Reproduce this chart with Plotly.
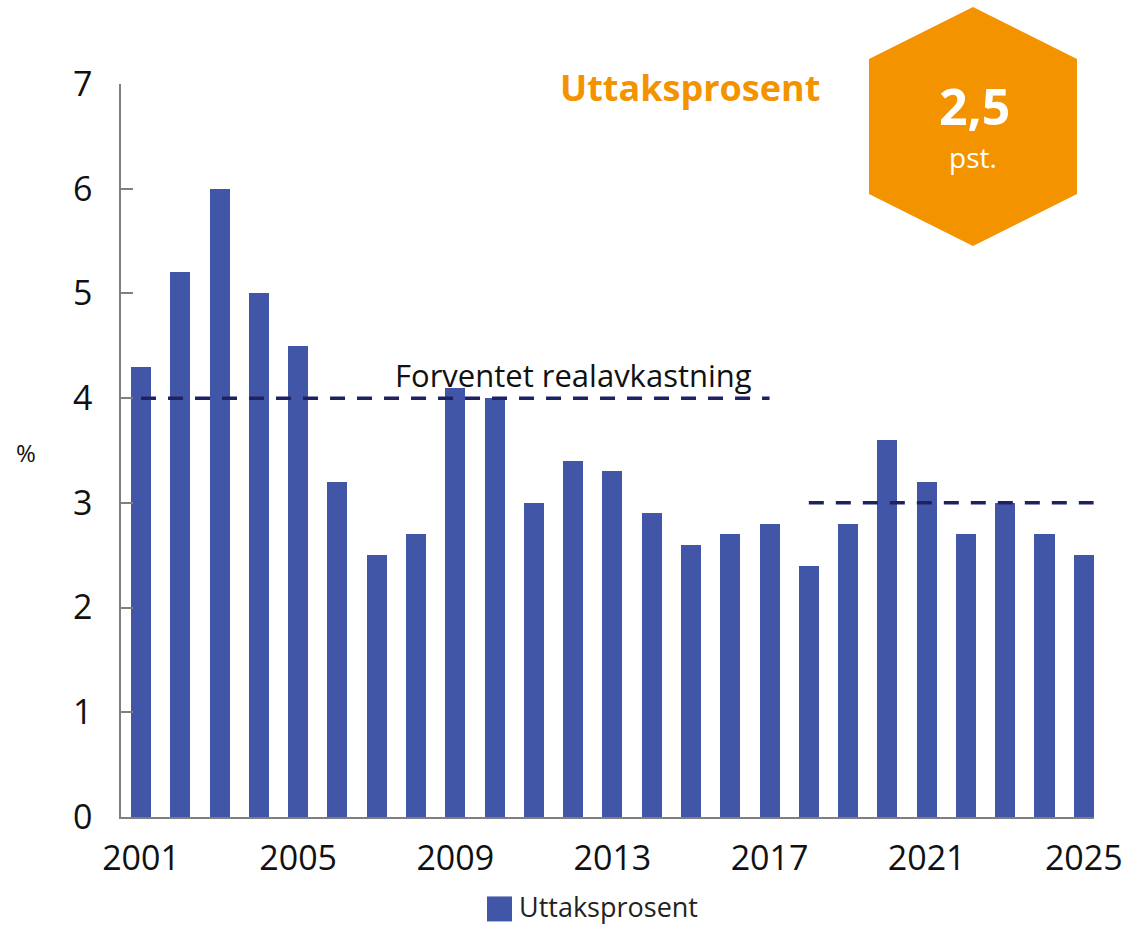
import plotly.graph_objects as go

years = list(range(2001, 2026))
uttak = [4.3, 5.2, 6.0, 5.0, 4.5, 3.2, 2.5, 2.7, 4.1, 4.0, 3.0, 3.4, 3.3, 2.9,
         2.6, 2.7, 2.8, 2.4, 2.8, 3.6, 3.2, 2.7, 3.0, 2.7, 2.5]
forv1_x = [2001, 2017]
forv1_y = [4, 4]
forv2_x = [2018, 2025.25]
forv2_y = [3, 3]
xticks = [2001, 2005, 2009, 2013, 2017, 2021, 2025]
yticks = [0, 1, 2, 3, 4, 5, 6, 7]

BAR = "#4256A7"
NAVY = "#1E2262"
ORANGE = "#F49300"
FONT = "Open Sans"

W, H = 1127, 926
L, R_px, T, B_px = 121, 1094, 84, 817.5
pw, ph = R_px - L, B_px - T


def px(x):
    return (x - L) / pw


def py(y):
    return (B_px - y) / ph


fig = go.Figure()
fig.add_trace(go.Bar(x=years, y=uttak, width=0.51, marker=dict(color=BAR, line_width=0),
                     name="Uttaksprosent", showlegend=False))
for xs, ys in [(forv1_x, forv1_y), (forv2_x, forv2_y)]:
    fig.add_trace(go.Scatter(x=xs, y=ys, mode="lines", showlegend=False,
                             line=dict(color=NAVY, width=3.5, dash="15px,12px")))

hexpts = [(973, 7), (1077, 59), (1077, 194), (973, 246), (869, 194), (869, 59)]
path = "M " + " L ".join(f"{px(a):.5f},{py(b):.5f}" for a, b in hexpts) + " Z"

shapes = [
    dict(type="path", xref="paper", yref="paper", path=path,
         fillcolor=ORANGE, line=dict(width=0), layer="above"),
    dict(type="rect", xref="paper", yref="paper",
         x0=px(487), x1=px(512), y0=py(922), y1=py(897),
         fillcolor=BAR, line=dict(width=0)),
]


def ann(text, x, y, size, color, xanchor="center", xref="paper", yref="paper"):
    return dict(text=text, x=x, y=y, xref=xref, yref=yref, xanchor=xanchor, yanchor="middle",
                showarrow=False, font=dict(family=FONT, size=size, color=color))


annotations = [
    ann("Forventet realavkastning", 2012, 4.22, 31, "#111111", xref="x", yref="y"),
    ann("<b>Uttaksprosent</b>", px(690), py(88), 36, ORANGE),
    ann("<b>2,5</b>", px(974), py(106), 50, "white"),
    ann("pst.", px(973), py(157), 28, "white"),
    ann("%", px(26), py(453), 24, "#111111"),
    ann("Uttaksprosent", px(517), py(907), 27, "#222222", xanchor="left"),
]

fig.update_layout(
    width=W, height=H,
    margin=dict(l=L, r=W - R_px, t=T, b=H - B_px, pad=0),
    paper_bgcolor="white", plot_bgcolor="white",
    font=dict(family=FONT, color="#111111"),
    shapes=shapes, annotations=annotations,
    bargap=0,
    xaxis=dict(range=[2000.49, 2025.26], tickvals=xticks, ticktext=[str(v) for v in xticks],
               showgrid=False, zeroline=False, showline=True, linecolor="#7F7F7F", linewidth=1.5,
               ticks="", tickfont=dict(family=FONT, size=34, color="#111111"),
               ticklabelstandoff=10, automargin=False),
    yaxis=dict(range=[0, 7], tickvals=yticks, showgrid=False, zeroline=False,
               showline=True, linecolor="#7F7F7F", linewidth=1.5,
               ticks="inside", ticklen=12, tickcolor="#7F7F7F", tickwidth=1.5,
               tickfont=dict(family=FONT, size=34, color="#111111"),
               ticklabelstandoff=20, automargin=False),
)

fig.write_html("out.html", config={"displayModeBar": False},
               post_script="document.body.style.margin='0';document.body.style.overflow='hidden';")
